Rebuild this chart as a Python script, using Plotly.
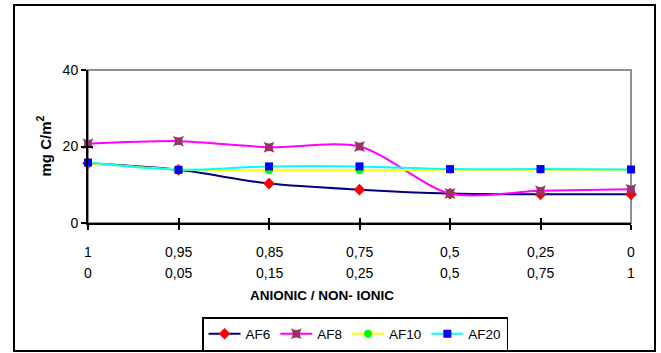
import plotly.graph_objects as go

# Data
row1 = ["1", "0,95", "0,85", "0,75", "0,5", "0,25", "0"]
row2 = ["0", "0,05", "0,15", "0,25", "0,5", "0,75", "1"]
af6 = [15.6, 13.9, 10.3, 8.7, 7.7, 7.5, 7.5]
af8 = [20.7, 21.4, 19.8, 20.0, 7.7, 8.4, 8.8]
af10 = [15.6, 14.0, 13.8, 13.8, 13.9, 13.9, 13.9]
af20 = [15.8, 13.9, 14.8, 14.8, 14.1, 14.1, 14.0]
y_ticks = [0, 20, 40]

FONT = "Liberation Sans, Arial, sans-serif"
xs = list(range(len(row1)))

fig = go.Figure()
series = [
    ("AF6", af6, "#000080", "#FF0000", "diamond", 9),
    ("AF8", af8, "#FF00FF", "#993366", "star-square", 10),
    ("AF10", af10, "#FFFF00", "#00FF00", "circle", 8),
    ("AF20", af20, "#00FFFF", "#0000FF", "square", 8),
]
for name, vals, lc, mc, sym, ms in series:
    fig.add_trace(go.Scatter(
        x=xs, y=vals, name=name, mode="lines+markers",
        line=dict(color=lc, width=2, shape="spline", smoothing=0.8),
        marker=dict(color=mc, symbol=sym, size=ms, line=dict(width=0)),
        cliponaxis=False,
    ))

# dummy trace for overlay axes (crossing tick marks)
fig.add_trace(go.Scatter(x=[0], y=[0], xaxis="x2", yaxis="y2", mode="markers",
                         marker=dict(opacity=0), showlegend=False, hoverinfo="skip"))

axis_common = dict(showgrid=False, zeroline=False)
fig.update_layout(
    width=661, height=353,
    margin=dict(l=88, r=30, t=70, b=130, autoexpand=False),
    paper_bgcolor="white", plot_bgcolor="white",
    font=dict(family=FONT, size=14, color="black"),
    xaxis=dict(range=[0, 6], tickvals=xs, showticklabels=False, ticks="outside",
               ticklen=5, tickwidth=1.5, tickcolor="black", showline=True,
               linecolor="black", linewidth=2, **axis_common),
    xaxis2=dict(range=[0, 6], tickvals=xs, showticklabels=False, ticks="inside",
                ticklen=5, tickwidth=1.5, tickcolor="black", overlaying="x",
                showline=False, **axis_common),
    yaxis=dict(range=[0, 40], tickvals=y_ticks, ticks="outside", ticklen=5,
               tickwidth=1.5, tickcolor="black", showline=True, linecolor="black",
               linewidth=2, tickfont=dict(size=14), **axis_common),
    yaxis2=dict(range=[0, 40], tickvals=y_ticks, showticklabels=False, ticks="inside",
                ticklen=5, tickwidth=1.5, tickcolor="black", overlaying="y",
                showline=False, **axis_common),
    legend=dict(orientation="h", x=0.21, y=(223 - 317) / 153, xanchor="left", yanchor="top",
                bordercolor="black", borderwidth=1.5, font=dict(size=13.5),
                itemwidth=32, tracegroupgap=0),
    showlegend=True,
)

# plot-area gray border and outer chart frame
fig.add_shape(type="rect", xref="paper", yref="paper", x0=0, x1=1, y0=0, y1=1,
              line=dict(color="#909090", width=2), layer="below")
fig.add_shape(type="rect", xref="paper", yref="paper",
              x0=(14 - 88) / 543, x1=(655 - 88) / 543,
              y0=(223 - 351) / 153, y1=(223 - 5) / 153,
              line=dict(color="black", width=2))

# two-row category labels
for i in xs:
    fig.add_annotation(x=i, y=(223 - 252) / 153, xref="x", yref="paper", text=row1[i],
                       showarrow=False, yanchor="middle", font=dict(size=14))
    fig.add_annotation(x=i, y=(223 - 273) / 153, xref="x", yref="paper", text=row2[i],
                       showarrow=False, yanchor="middle", font=dict(size=14))

fig.add_annotation(x=(322 - 88) / 543, y=(223 - 295) / 153, xref="paper", yref="paper",
                   text="<b>ANIONIC / NON- IONIC</b>", showarrow=False,
                   yanchor="middle", font=dict(size=13.5))
fig.add_annotation(x=(44 - 88) / 543, y=0.5, xref="paper", yref="paper",
                   text="<b>mg C/m<sup>2</sup></b>", showarrow=False, textangle=-90,
                   xanchor="center", yanchor="middle", font=dict(size=15))

fig.write_html("out.html")
